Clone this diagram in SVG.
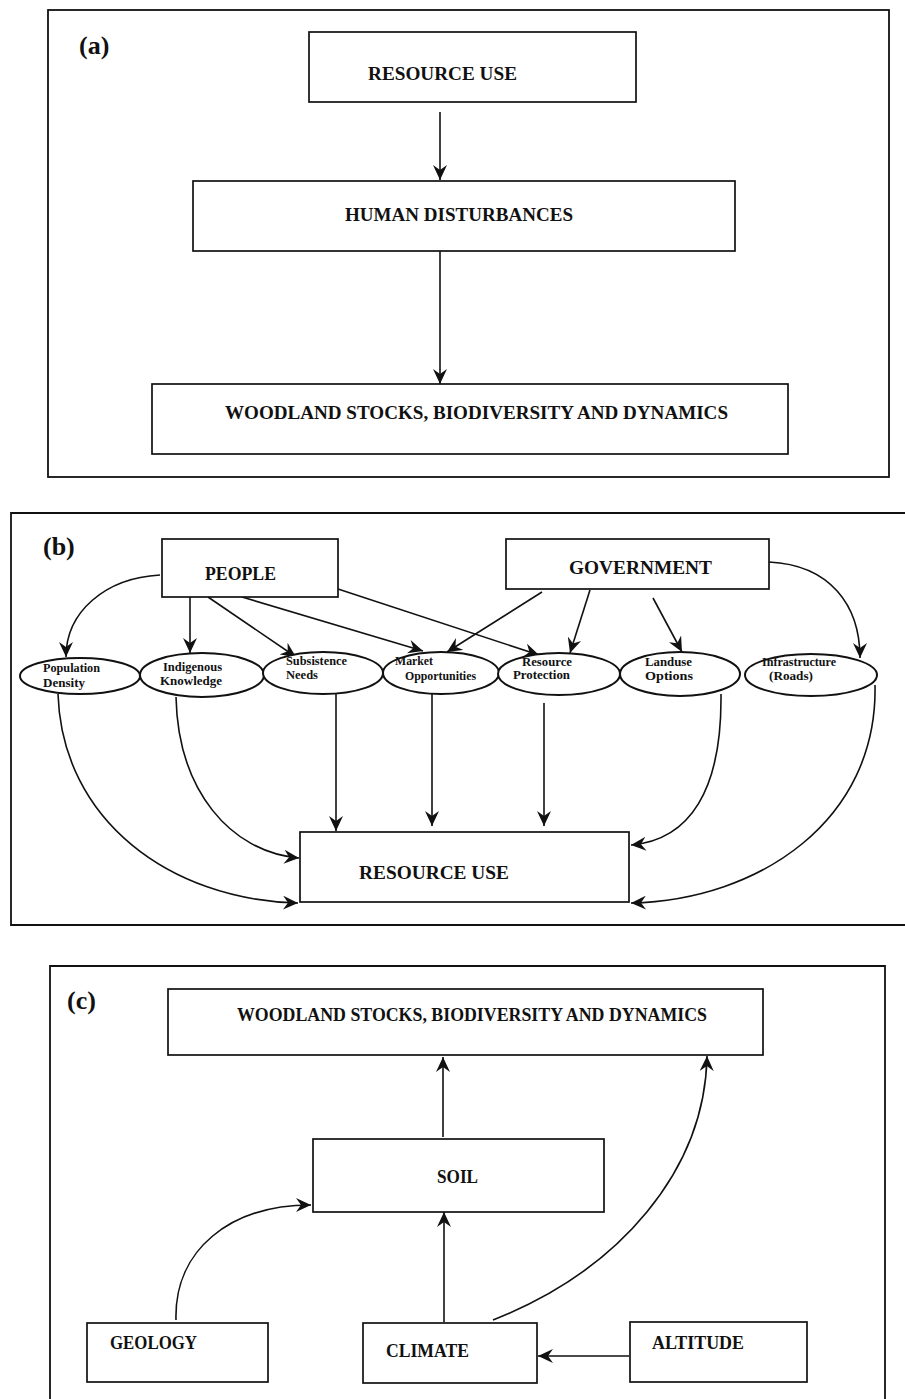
<svg xmlns="http://www.w3.org/2000/svg" width="905" height="1399" viewBox="0 0 905 1399">
<style>
.frame{fill:none;stroke:#111;stroke-width:1.8}
.box{fill:#fff;stroke:#111;stroke-width:1.7}
.ell{fill:#fff;stroke:#111;stroke-width:2}
.lbl{font-family:"Liberation Serif",serif;font-size:18px;font-weight:bold;fill:#111}
.tag{font-family:"Liberation Serif",serif;font-size:26px;font-weight:bold;fill:#111}
.sm{font-family:"Liberation Serif",serif;font-size:12px;font-weight:bold;fill:#111}
.con{fill:none;stroke:#111;stroke-width:1.6}
</style>
<defs>
<marker id="ah" markerUnits="userSpaceOnUse" markerWidth="16" markerHeight="14" refX="15" refY="7" orient="auto">
<path d="M0,0 L15,7 L0,14 L5,7 z" fill="#111"/>
</marker>
</defs>
<rect width="905" height="1399" fill="#fff"/>

<!-- Panel frames -->
<g id="frames">
<rect class="frame" x="48" y="10" width="841" height="467"/>
<path class="frame" d="M905,513 L11,513 L11,925 L905,925"/>
<path class="frame" d="M50,1399 L50,966 L885,966 L885,1399"/>
<text class="tag" x="79" y="54">(a)</text>
<text class="tag" x="43" y="555">(b)</text>
<text class="tag" x="67" y="1009">(c)</text>
</g>

<!-- Connectors -->
<g id="connectors" marker-end="url(#ah)">
<!-- (a) -->
<path class="con" d="M440,112 L440,180"/>
<path class="con" d="M440,251 L440,384"/>
<!-- (b) top -->
<path class="con" d="M160,575 C105,578 66,612 66,657"/>
<path class="con" d="M190,597 L190,653"/>
<path class="con" d="M208,597 L296,657"/>
<path class="con" d="M242,597 L423,651"/>
<path class="con" d="M338,589 L539,655"/>
<path class="con" d="M542,592 L447,652"/>
<path class="con" d="M590,590 L570,653"/>
<path class="con" d="M653,598 L682,652"/>
<path class="con" d="M769,562 C830,565 860,605 860,658"/>
<!-- (b) bottom -->
<path class="con" d="M58,694 C62,820 170,900 298,903"/>
<path class="con" d="M176,697 C178,790 230,852 299,858"/>
<path class="con" d="M336,694 L336,831"/>
<path class="con" d="M432,694 L432,826"/>
<path class="con" d="M544,703 L544,826"/>
<path class="con" d="M721,694 C722,790 690,840 631,845"/>
<path class="con" d="M875,685 C878,820 760,900 631,903"/>
<!-- (c) -->
<path class="con" d="M443,1137 L443,1057"/>
<path class="con" d="M176,1320 C174,1250 230,1205 311,1205"/>
<path class="con" d="M444,1322 L444,1212"/>
<path class="con" d="M493,1320 C620,1270 705,1170 707,1056"/>
<path class="con" d="M629,1356 L538,1356"/>
</g>

<!-- Panel (a) nodes -->
<g id="a-resource-use">
<rect class="box" x="309" y="32" width="327" height="70"/>
<text class="lbl" x="368" y="80" textLength="149" lengthAdjust="spacingAndGlyphs">RESOURCE  USE</text>
</g>
<g id="a-human-disturbances">
<rect class="box" x="193" y="181" width="542" height="70"/>
<text class="lbl" x="345" y="221" textLength="228" lengthAdjust="spacingAndGlyphs">HUMAN DISTURBANCES</text>
</g>
<g id="a-woodland">
<rect class="box" x="152" y="384" width="636" height="70"/>
<text class="lbl" x="225" y="419" textLength="503" lengthAdjust="spacingAndGlyphs">WOODLAND STOCKS, BIODIVERSITY AND DYNAMICS</text>
</g>

<!-- Panel (b) nodes -->
<g id="b-people">
<rect class="box" x="162" y="539" width="176" height="58"/>
<text class="lbl" x="205" y="580" textLength="71" lengthAdjust="spacingAndGlyphs">PEOPLE</text>
</g>
<g id="b-government">
<rect class="box" x="506" y="539" width="263" height="50"/>
<text class="lbl" x="569" y="574" textLength="143" lengthAdjust="spacingAndGlyphs">GOVERNMENT</text>
</g>
<g id="b-population-density">
<ellipse class="ell" cx="80" cy="676" rx="60" ry="18"/>
<text class="sm" x="43" y="672" textLength="57" lengthAdjust="spacingAndGlyphs">Population</text>
<text class="sm" x="43" y="687" textLength="42" lengthAdjust="spacingAndGlyphs">Density</text>
</g>
<g id="b-indigenous-knowledge">
<ellipse class="ell" cx="202" cy="675" rx="62" ry="22"/>
<text class="sm" x="163" y="671" textLength="59" lengthAdjust="spacingAndGlyphs">Indigenous</text>
<text class="sm" x="160" y="685" textLength="62" lengthAdjust="spacingAndGlyphs">Knowledge</text>
</g>
<g id="b-subsistence-needs">
<ellipse class="ell" cx="323" cy="673" rx="60" ry="21"/>
<text class="sm" x="286" y="665" textLength="61" lengthAdjust="spacingAndGlyphs">Subsistence</text>
<text class="sm" x="286" y="679" textLength="32" lengthAdjust="spacingAndGlyphs">Needs</text>
</g>
<g id="b-market-opportunities">
<ellipse class="ell" cx="441" cy="673" rx="58" ry="21"/>
<text class="sm" x="395" y="665" textLength="38" lengthAdjust="spacingAndGlyphs">Market</text>
<text class="sm" x="405" y="680" textLength="71" lengthAdjust="spacingAndGlyphs">Opportunities</text>
</g>
<g id="b-resource-protection">
<ellipse class="ell" cx="559" cy="674" rx="61" ry="21"/>
<text class="sm" x="522" y="666" textLength="50" lengthAdjust="spacingAndGlyphs">Resource</text>
<text class="sm" x="513" y="679" textLength="57" lengthAdjust="spacingAndGlyphs">Protection</text>
</g>
<g id="b-landuse-options">
<ellipse class="ell" cx="680" cy="674" rx="60" ry="22"/>
<text class="sm" x="645" y="666" textLength="47" lengthAdjust="spacingAndGlyphs">Landuse</text>
<text class="sm" x="645" y="680" textLength="48" lengthAdjust="spacingAndGlyphs">Options</text>
</g>
<g id="b-infrastructure">
<ellipse class="ell" cx="811" cy="675" rx="66" ry="21"/>
<text class="sm" x="762" y="666" textLength="74" lengthAdjust="spacingAndGlyphs">Infrastructure</text>
<text class="sm" x="769" y="680" textLength="44" lengthAdjust="spacingAndGlyphs">(Roads)</text>
</g>
<g id="b-resource-use">
<rect class="box" x="300" y="832" width="329" height="70"/>
<text class="lbl" x="359" y="879" textLength="150" lengthAdjust="spacingAndGlyphs">RESOURCE  USE</text>
</g>

<!-- Panel (c) nodes -->
<g id="c-woodland">
<rect class="box" x="168" y="989" width="595" height="66"/>
<text class="lbl" x="237" y="1021" textLength="470" lengthAdjust="spacingAndGlyphs">WOODLAND STOCKS, BIODIVERSITY AND DYNAMICS</text>
</g>
<g id="c-soil">
<rect class="box" x="313" y="1139" width="291" height="73"/>
<text class="lbl" x="437" y="1183" textLength="41" lengthAdjust="spacingAndGlyphs">SOIL</text>
</g>
<g id="c-geology">
<rect class="box" x="87" y="1323" width="181" height="59"/>
<text class="lbl" x="110" y="1349" textLength="87" lengthAdjust="spacingAndGlyphs">GEOLOGY</text>
</g>
<g id="c-climate">
<rect class="box" x="363" y="1323" width="174" height="60"/>
<text class="lbl" x="386" y="1357" textLength="83" lengthAdjust="spacingAndGlyphs">CLIMATE</text>
</g>
<g id="c-altitude">
<rect class="box" x="630" y="1322" width="177" height="60"/>
<text class="lbl" x="652" y="1349" textLength="92" lengthAdjust="spacingAndGlyphs">ALTITUDE</text>
</g>
</svg>
